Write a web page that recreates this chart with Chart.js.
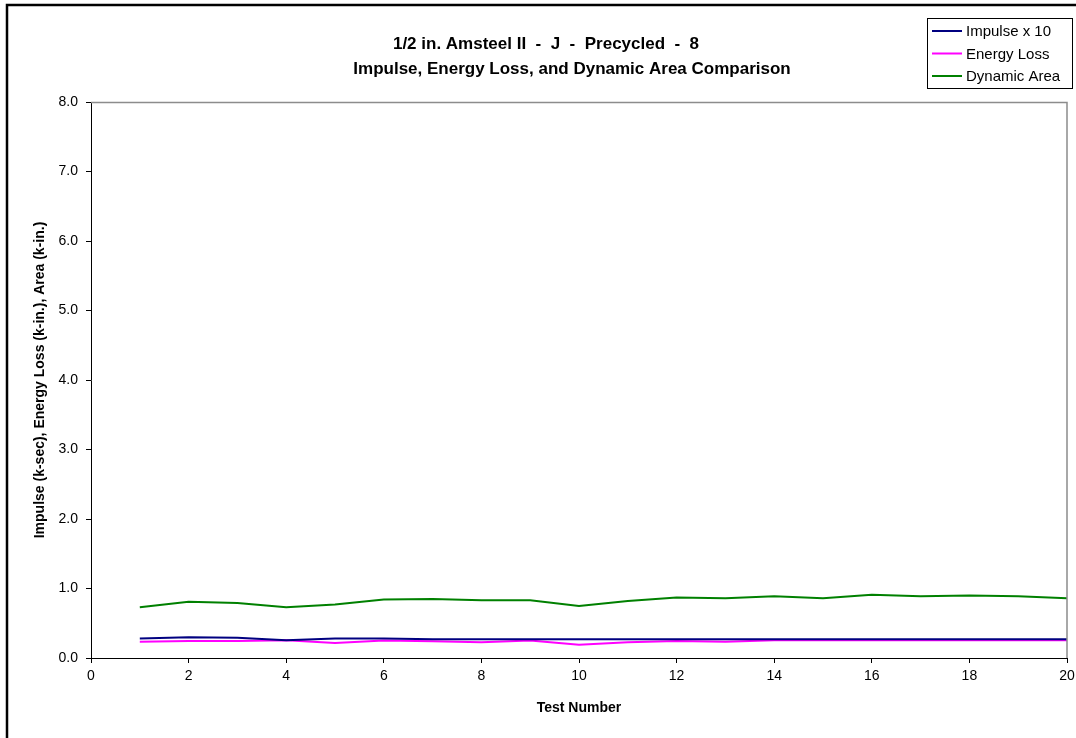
<!DOCTYPE html>
<html>
<head>
<meta charset="utf-8">
<script src="https://cdn.jsdelivr.net/npm/chart.js@4/dist/chart.umd.min.js"></script>
<style>
  html, body { margin: 0; padding: 0; background: #fff; }
  #wrap { width: 1076px; height: 738px; position: relative; }
</style>
</head>
<body>
<div id="wrap"><canvas id="c" width="1076" height="738"></canvas></div>
<script>
// Test numbers and measured series
const testNumbers = [1, 2, 3, 4, 5, 6, 7, 8, 9, 10, 11, 12, 13, 14, 15, 16, 17, 18, 19, 20];
const impulseX10 = [0.28, 0.30, 0.29, 0.255, 0.28, 0.28, 0.27, 0.27, 0.27, 0.27, 0.27, 0.27, 0.27, 0.27, 0.27, 0.27, 0.27, 0.27, 0.27, 0.27];
const energyLoss = [0.235, 0.245, 0.245, 0.255, 0.215, 0.25, 0.24, 0.225, 0.25, 0.19, 0.225, 0.245, 0.235, 0.255, 0.255, 0.255, 0.255, 0.255, 0.255, 0.255];
const dynamicArea = [0.73, 0.81, 0.79, 0.73, 0.77, 0.84, 0.85, 0.83, 0.83, 0.75, 0.82, 0.87, 0.86, 0.89, 0.86, 0.91, 0.89, 0.90, 0.89, 0.86];

const seriesNames = ['Impulse x 10', 'Energy Loss', 'Dynamic Area'];
const titleLines = ['1/2 in. Amsteel II  -  J  -  Precycled  -  8', 'Impulse, Energy Loss, and Dynamic Area Comparison'];
const xAxisTitle = 'Test Number';
const yAxisTitle = 'Impulse (k-sec), Energy Loss (k-in.), Area (k-in.)';

const FONT = "'Liberation Sans', Arial, sans-serif";

const toPoints = vals => vals.map((v, i) => ({ x: testNumbers[i], y: v }));

// Page frame, chart-area border, title and boxed legend
const decorations = {
  id: 'decorations',
  beforeDraw(chart) {
    const ctx = chart.ctx;
    ctx.save();
    ctx.fillStyle = '#fff';
    ctx.fillRect(0, 0, chart.width, chart.height);
    ctx.restore();
  },
  afterDraw(chart) {
    const ctx = chart.ctx;
    const a = chart.chartArea;
    ctx.save();
    // outer frame
    ctx.strokeStyle = '#000';
    ctx.lineWidth = 2.5;
    ctx.strokeRect(7, 5, 1100, 800);
    // gray top and right edges of plot area
    ctx.strokeStyle = '#8c8c8c';
    ctx.lineWidth = 1.5;
    ctx.beginPath();
    ctx.moveTo(a.left, a.top + 0.5);
    ctx.lineTo(a.right, a.top + 0.5);
    ctx.lineTo(a.right, a.bottom);
    ctx.stroke();
    // title
    ctx.fillStyle = '#000';
    ctx.font = "bold 17px " + FONT;
    ctx.textAlign = 'center';
    ctx.textBaseline = 'middle';
    ctx.fillText(titleLines[0], 546, 44);
    ctx.fillText(titleLines[1], 572, 69);
    // legend
    const lx = 927, ly = 18, lw = 145, lh = 70;
    ctx.strokeStyle = '#000';
    ctx.lineWidth = 1;
    ctx.strokeRect(lx + 0.5, ly + 0.5, lw, lh);
    ctx.font = "15px " + FONT;
    ctx.textAlign = 'left';
    chart.data.datasets.forEach((ds, i) => {
      const y = 31 + i * 22.5;
      ctx.strokeStyle = ds.borderColor;
      ctx.lineWidth = 2;
      ctx.beginPath();
      ctx.moveTo(932, y);
      ctx.lineTo(962, y);
      ctx.stroke();
      ctx.fillStyle = '#000';
      ctx.fillText(ds.label, 966, y + 1);
    });
    ctx.restore();
  }
};

new Chart(document.getElementById('c'), {
  type: 'line',
  data: {
    datasets: [
      { label: seriesNames[0], data: toPoints(impulseX10), borderColor: '#000080', borderWidth: 2 },
      { label: seriesNames[1], data: toPoints(energyLoss), borderColor: '#ff00ff', borderWidth: 2 },
      { label: seriesNames[2], data: toPoints(dynamicArea), borderColor: '#008000', borderWidth: 2 }
    ]
  },
  options: {
    responsive: false,
    animation: false,
    devicePixelRatio: 1,
    layout: { padding: { top: 102, right: 9, left: 0, bottom: 0 } },
    elements: { point: { radius: 0 }, line: { tension: 0 } },
    plugins: { legend: { display: false }, title: { display: false }, tooltip: { enabled: false } },
    scales: {
      x: {
        type: 'linear', min: 0, max: 20,
        ticks: { stepSize: 2, color: '#000', padding: 5, font: { family: FONT, size: 14 }, maxRotation: 0 },
        grid: { drawOnChartArea: false, drawTicks: true, tickLength: 5, color: '#000' },
        border: { color: '#000', width: 1 },
        title: { display: true, text: xAxisTitle, color: '#000', font: { family: FONT, size: 14, weight: 'bold' }, padding: { top: 0, bottom: 21 } },
        afterFit(s) { s.height = 80; s.paddingLeft = 0; s.paddingRight = 0; }
      },
      y: {
        min: 0, max: 8,
        ticks: { stepSize: 1, color: '#000', padding: 8, font: { family: FONT, size: 14 }, callback: v => Number(v).toFixed(1) },
        grid: { drawOnChartArea: false, drawTicks: true, tickLength: 5, color: '#000' },
        border: { color: '#000', width: 1 },
        title: { display: true, text: yAxisTitle, color: '#000', font: { family: FONT, size: 14, weight: 'bold' }, padding: { top: 32, bottom: 0 } },
        afterFit(s) { s.width = 91; s.paddingTop = 0; s.paddingBottom = 0; }
      }
    }
  },
  plugins: [decorations]
});
</script>
</body>
</html>
